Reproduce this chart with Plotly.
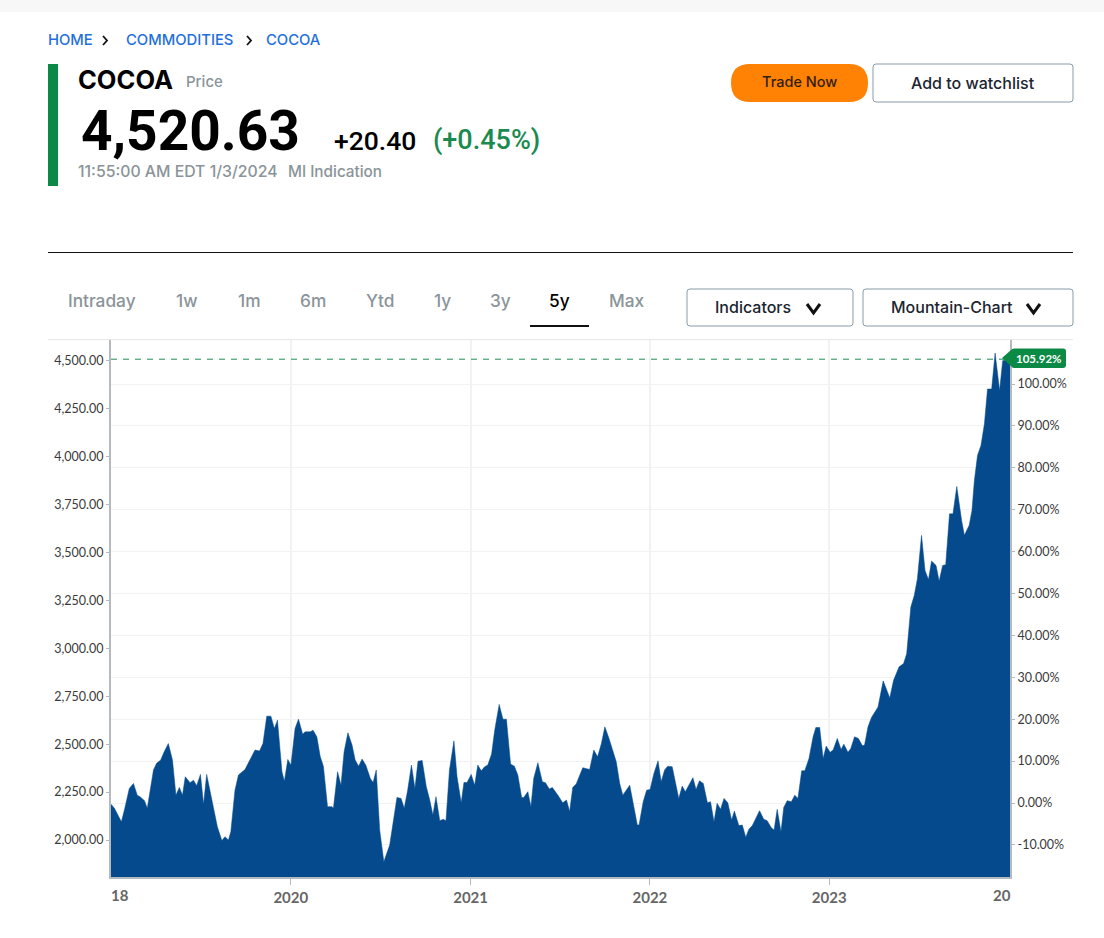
import pandas as pd
import plotly.graph_objects as go

W, H = 1104, 938

# weeks since the left edge of the chart, read at each vertex of the outline
weeks = [0, 1, 2, 3, 4, 5.3, 6.5, 7.6, 8.4, 9.7, 10.5, 11.3, 12.3, 13.2, 14.4, 15.4, 16.6, 17.8, 18.8, 19.8,
         20.7, 21.5, 22.9, 23.9, 24.8, 25.9, 26.8, 27.7, 29.7, 30.8, 32.1, 33, 34, 34.7, 35.9, 36.9, 38.8, 40.3,
         41.7, 43, 44, 45.1, 46.3, 47.3, 48.2, 49.5, 50.2, 51.2, 52.1, 53.3, 54.3, 55.5, 56.2, 57.7, 58.5, 59.6,
         60.6, 61.5, 62.7, 64, 64.4, 65.6, 66.6, 67.5, 68.6, 69.8, 70.7, 71.7, 72.7, 73.8, 75.1, 75.9, 76.8,
         77.8, 79, 80.7, 81.9, 82.8, 84, 84.9, 85.9, 87, 88, 88.9, 90.1, 91.3, 92.3, 93.2, 94.1, 95.2, 96.2, 97,
         98, 99.3, 100.2, 101.4, 102.2, 103.1, 104.3, 105.3, 106.2, 107.2, 108.2, 109.1, 110.2, 111.1, 112.4,
         113.5, 114.5, 115.7, 116.8, 117.8, 118.9, 119.5, 120.7, 121.6, 122.4, 123.6, 124.9, 125.8, 126.9, 127.8,
         129.4, 130.8, 131.9, 132.8, 133.7, 134.7, 136.6, 138.6, 139.8, 140.9, 142, 143, 144.2, 145.3, 146.3,
         147.3, 148.2, 150.2, 151.2, 152.4, 152.9, 154.1, 155.1, 156.1, 157.2, 158.4, 159.3, 160.3, 161.2, 162.5,
         164.4, 165.4, 166.3, 168.5, 169.4, 170.4, 171.5, 172.7, 173.6, 174.6, 175.5, 176.5, 177.5, 178.6, 179.7,
         180.5, 181.8, 182.8, 183.8, 184.7, 185.7, 187.8, 189, 190, 191.2, 192, 192.9, 194, 194.8, 195.8, 197,
         198, 198.9, 200, 200.9, 202.1, 203.3, 204.1, 205.2, 206.2, 207.1, 208.2, 209.1, 210.3, 211.4, 212.2,
         213.4, 214.2, 215.3, 216.4, 217.6, 218.2, 219.2, 220.2, 221.7, 222.1, 223.6, 225.5, 226.6, 228.2, 229.5,
         230.4, 231.6, 232.6, 233.5, 234.7, 235.7, 236.7, 237.6, 238.9, 239.8, 240.8, 241.7, 242.8, 243.8, 244.9,
         246.3, 247.1, 248.5, 249.3, 250, 250.9, 251.9, 252.9, 253.8, 255, 256, 257.3, 258.2, 260.6]
prices = [2187, 2165, 2130, 2095, 2165, 2269, 2295, 2234, 2226, 2205, 2165, 2260, 2365, 2400, 2417, 2460, 2503, 2417, 2234, 2274,
          2234, 2330, 2299, 2312, 2283, 2342, 2187, 2342, 2174, 2069, 1997, 2017, 2000, 2043, 2260, 2339, 2368, 2417,
          2469, 2464, 2503, 2646, 2646, 2582, 2625, 2356, 2307, 2420, 2390, 2582, 2630, 2552, 2564, 2564, 2573, 2538,
          2434, 2385, 2174, 2174, 2165, 2356, 2286, 2460, 2559, 2495, 2417, 2385, 2422, 2390, 2321, 2300, 2365,
          2052, 1887, 1974, 2104, 2222, 2217, 2165, 2260, 2391, 2269, 2411, 2415, 2278, 2208, 2130, 2226, 2101, 2108, 2101,
          2365, 2517, 2330, 2194, 2300, 2300, 2342, 2286, 2391, 2361, 2382, 2391, 2448, 2573, 2707,
          2630, 2630, 2396, 2385, 2339, 2222, 2222, 2252, 2174, 2321, 2403, 2304, 2299, 2266, 2274,
          2234, 2194, 2208, 2148, 2274, 2292, 2377, 2368, 2469, 2434, 2503, 2590, 2530, 2469, 2408,
          2295, 2234, 2286, 2182, 2078, 2078, 2200, 2260, 2264, 2347, 2413, 2304, 2365, 2385, 2382,
          2217, 2281, 2252, 2325, 2264, 2309, 2295, 2194, 2200, 2095, 2191, 2160, 2217, 2194, 2104,
          2151, 2075, 2078, 2014, 2056, 2075, 2153, 2108, 2101, 2064, 2052, 2160, 2043, 2170, 2205, 2200,
          2234, 2217, 2361, 2361, 2425, 2538, 2587, 2587, 2425, 2490, 2457, 2469, 2530, 2472, 2500,
          2457, 2477, 2538, 2530, 2491, 2495, 2590, 2639, 2682, 2694, 2830, 2741, 2833, 2903, 2920,
          2972, 3215, 3276, 3363, 3589, 3406, 3358, 3455, 3432, 3350, 3432, 3436, 3701, 3701, 3844,
          3667, 3589, 3641, 3719, 3875, 4005, 4057, 4170, 4352, 4352, 4540, 4344, 4500, 4510]

price_ticks = [2000, 2250, 2500, 2750, 3000, 3250, 3500, 3750, 4000, 4250, 4500]
price_labels = ["2,000.00", "2,250.00", "2,500.00", "2,750.00", "3,000.00", "3,250.00", "3,500.00", "3,750.00",
                "4,000.00", "4,250.00", "4,500.00"]
pct_ticks = [-10, 0, 10, 20, 30, 40, 50, 60, 70, 80, 90, 100]
pct_labels = ["-10.00%", "0.00%", "10.00%", "20.00%", "30.00%", "40.00%", "50.00%", "60.00%", "70.00%", "80.00%",
              "90.00%", "100.00%"]
year_ticks = ["2020-01-01", "2021-01-01", "2022-01-01", "2023-01-01"]
year_labels = ["2020", "2021", "2022", "2023"]
tabs = ["Intraday", "1w", "1m", "6m", "Ytd", "1y", "3y", "5y", "Max"]
tab_x = [102, 187, 249, 313, 380, 442, 500, 559, 627]

FONT = "Roboto"
UI_FONT = "Inter"
TICK_FONT = "Lato"
GREEN = "#0b8a45"
BLUE = "#054a8c"
GREY = "#8a9499"
GRID = "#f2f2f2"
AXIS = "#b4bac0"

start = pd.Timestamp("2018-12-31")
dates = [start + pd.Timedelta(days=w * 7.03) for w in weeks]


def px(x):
    return x / W


def py(y):
    return 1 - y / H


def rect(x0, y0, x1, y1, fill):
    return dict(type="rect", xref="paper", yref="paper", x0=px(x0), x1=px(x1), y0=py(y0), y1=py(y1),
                fillcolor=fill, line_width=0)


def rounded(x0, y0, x1, y1, r, fill="#ffffff", line="#8a9ba8"):
    a, b, c, d = px(x0), px(x1), py(y0), py(y1)
    rx, ry = r / W, r / H
    path = (f"M{a + rx},{c} L{b - rx},{c} Q{b},{c} {b},{c - ry} L{b},{d + ry} Q{b},{d} {b - rx},{d} "
            f"L{a + rx},{d} Q{a},{d} {a},{d + ry} L{a},{c - ry} Q{a},{c} {a + rx},{c} Z")
    return dict(type="path", xref="paper", yref="paper", path=path, fillcolor=fill,
                line=dict(color=line, width=1 if line != fill else 0))


def chevron(x0, y0, x1, y1, width, down=True):
    a, b, c, d = px(x0), px(x1), py(y0), py(y1)
    if down:
        path = f"M{a},{c} L{(a + b) / 2},{d} L{b},{c}"
    else:
        path = f"M{a},{c} L{b},{(c + d) / 2} L{a},{d}"
    return dict(type="path", xref="paper", yref="paper", path=path, line=dict(color="#111111", width=width))


def txt(x, y, s, size, color="#000000", anchor="left", font=UI_FONT, weight=500):
    return dict(xref="paper", yref="paper", x=px(x), y=py(y), text=s, showarrow=False, xanchor=anchor,
                yanchor="middle", font=dict(family=font, size=size, color=color, weight=weight),
                borderpad=0, borderwidth=0)


shapes = [
    rect(0, 0, W, 12, "#f7f7f7"),
    rect(48, 64, 58, 186, GREEN),
    rect(48, 252, 1073, 253, "#111111"),
    rect(48, 339, 1073, 340, "#e8e8e8"),
    rect(530, 325, 589, 327, "#111111"),
    chevron(103, 36, 107, 45, 1.8, down=False),
    chevron(247, 36, 251, 45, 1.8, down=False),
    rounded(731, 64, 868, 102, 19, "#ff8205", "#ff8205"),
    rounded(873, 64, 1073, 102, 3),
    rounded(687, 289, 853, 326, 3),
    rounded(863, 289, 1073, 326, 3),
    chevron(807, 304, 820, 313, 3),
    chevron(1027, 304, 1040, 313, 3),
    # dashed level of the last price, on the percent axis
    dict(type="line", xref="x", yref="y2", x0=start, x1=dates[-1], y0=105.92, y1=105.92,
         line=dict(color="#1f8a55", width=1, dash="6px,6px")),
    dict(type="path", xref="paper", yref="paper", fillcolor=GREEN, line_width=0,
         path=f"M{px(1002)},{py(358)} L{px(1011)},{py(350)} Q{px(1012)},{py(348.5)} {px(1014)},{py(348.5)} "
              f"L{px(1063)},{py(348.5)} Q{px(1066)},{py(348.5)} {px(1066)},{py(351)} L{px(1066)},{py(365)} "
              f"Q{px(1066)},{py(368)} {px(1063)},{py(368)} L{px(1014)},{py(368)} "
              f"Q{px(1012)},{py(368)} {px(1011)},{py(366)} Z"),
]

annotations = [
    txt(48, 40, "HOME", 14.8, "#1f6fdc"),
    txt(126, 40, "COMMODITIES", 14.8, "#1f6fdc"),
    txt(266, 40, "COCOA", 14.8, "#1f6fdc"),
    txt(78, 79.5, "COCOA", 25.5, weight=700),
    txt(186, 82, "Price", 15, GREY),
    txt(81, 131, "4,520.63", 55, font=FONT, weight=700),
    txt(334, 140, "+20.40", 26.5, font=FONT),
    txt(433, 140, "(+0.45%)", 27, "#1a8a4f", font=FONT),
    txt(78, 172, "11:55:00 AM EDT 1/3/2024", 15.8, GREY),
    txt(288, 172, "MI Indication", 15.3, GREY),
    txt(799, 82, "Trade Now", 14.5, "#33200a", "center"),
    txt(973, 83, "Add to watchlist", 16, "#1c2530", "center"),
    txt(753, 307, "Indicators", 16, "#1c2530", "center"),
    txt(952, 307, "Mountain-Chart", 16, "#1c2530", "center"),
    txt(1039, 358.5, "105.92%", 11.5, "#ffffff", "center", TICK_FONT, 700),
    txt(111, 895, "18", 15, "#666666", font=TICK_FONT, weight=700),
    txt(1011, 895, "20", 15, "#666666", "right", TICK_FONT, 700),
]
for name, xc in zip(tabs, tab_x):
    annotations.append(txt(xc, 300, name, 17.3, "#000000" if name == "5y" else GREY, "center"))

fig = go.Figure()
fig.add_trace(go.Scatter(x=dates, y=prices, mode="lines", fill="tozeroy", fillcolor=BLUE,
                         line=dict(color=BLUE, width=0.5), hoverinfo="skip", showlegend=False))
# invisible trace so the percent axis is drawn
fig.add_trace(go.Scatter(x=[dates[0]], y=[0], yaxis="y2", mode="markers", marker_opacity=0,
                         hoverinfo="skip", showlegend=False))

fig.update_layout(
    width=W, height=H, margin=dict(l=0, r=0, t=0, b=0), paper_bgcolor="#ffffff", plot_bgcolor="#ffffff",
    font=dict(family=TICK_FONT), shapes=shapes, annotations=annotations, hovermode=False,
    xaxis=dict(domain=[px(111), px(1010)], range=[start, "2024-01-04"], tickvals=year_ticks, ticktext=year_labels,
               showgrid=True, gridcolor=GRID, gridwidth=1.5, ticks="outside", ticklen=6, tickcolor=AXIS,
               showline=True, linecolor=AXIS, linewidth=2, zeroline=False,
               tickfont=dict(family=TICK_FONT, size=15, color="#666666", weight=700)),
    yaxis=dict(domain=[py(877), py(339)], range=[1807, 4613], tickvals=price_ticks, ticktext=price_labels,
               showgrid=False, ticks="outside", ticklen=3, tickcolor=AXIS, showline=True, linecolor=AXIS,
               linewidth=2, zeroline=False, tickfont=dict(family=TICK_FONT, size=12.5, color="#3a3a3a")),
    yaxis2=dict(domain=[py(877), py(339)], range=[-17.66, 110.74], overlaying="y", side="right", tickvals=pct_ticks,
                ticktext=pct_labels, showgrid=True, gridcolor=GRID, gridwidth=1.2, ticks="outside", ticklen=3,
                tickcolor=AXIS, showline=True, linecolor=AXIS, linewidth=2, zeroline=False,
                tickfont=dict(family=TICK_FONT, size=12.5, color="#3a3a3a")),
)

fig.write_html("out.html", config=dict(displayModeBar=False), post_script="document.body.style.margin='0';")
